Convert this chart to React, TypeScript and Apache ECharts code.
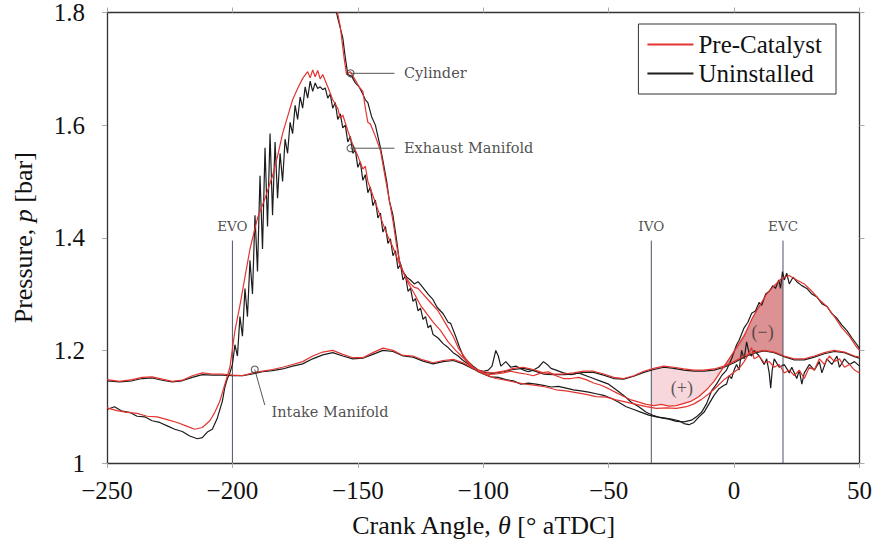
import React, { useEffect, useRef } from "react";
import * as echarts from "echarts";

// ---------- axis ticks ----------
const xTicks = [-250, -200, -150, -100, -50, 0, 50];
const yTicks = [1, 1.2, 1.4, 1.6, 1.8];

// ---------- intake manifold ----------
const intakePre: number[][] = [
  [-250, 1.148], [-245, 1.145], [-240, 1.148], [-236, 1.152], [-232, 1.153], [-228, 1.149], [-224, 1.145],
  [-220, 1.147], [-216, 1.155], [-212, 1.16], [-208, 1.158], [-204, 1.158], [-200, 1.156], [-196, 1.155],
  [-192, 1.16], [-188, 1.163], [-184, 1.166], [-180, 1.17], [-176, 1.175], [-172, 1.18], [-168, 1.19],
  [-164, 1.197], [-160, 1.2], [-156, 1.193], [-152, 1.187], [-148, 1.187], [-144, 1.196], [-140, 1.204],
  [-136, 1.2], [-132, 1.191], [-128, 1.19], [-124, 1.183], [-120, 1.178], [-116, 1.182], [-112, 1.184],
  [-108, 1.178], [-104, 1.168], [-100, 1.162], [-96, 1.16], [-92, 1.163], [-88, 1.168], [-84, 1.17],
  [-80, 1.166], [-76, 1.16], [-72, 1.158], [-68, 1.158], [-64, 1.16], [-60, 1.163], [-56, 1.163],
  [-52, 1.158], [-48, 1.152], [-44, 1.15], [-40, 1.155], [-36, 1.163], [-32, 1.168], [-28, 1.172],
  [-24, 1.17], [-20, 1.167], [-16, 1.165], [-12, 1.165], [-8, 1.167], [-4, 1.172], [0, 1.18],
  [4, 1.19], [8, 1.197], [12, 1.2], [16, 1.197], [20, 1.19], [24, 1.185], [28, 1.185], [32, 1.19],
  [36, 1.196], [40, 1.2], [44, 1.197], [48, 1.19], [50, 1.188],
];
const intakeUn: number[][] = [
  [-250, 1.146], [-245, 1.144], [-240, 1.146], [-236, 1.15], [-232, 1.151], [-228, 1.147], [-224, 1.144],
  [-220, 1.146], [-216, 1.152], [-212, 1.157], [-208, 1.156], [-204, 1.156], [-200, 1.155], [-196, 1.155],
  [-192, 1.158], [-188, 1.162], [-184, 1.164], [-180, 1.167], [-176, 1.172], [-172, 1.176], [-168, 1.185],
  [-164, 1.192], [-160, 1.196], [-156, 1.19], [-152, 1.185], [-148, 1.186], [-144, 1.193], [-140, 1.2],
  [-136, 1.198], [-132, 1.19], [-128, 1.188], [-124, 1.181], [-120, 1.176], [-116, 1.18], [-112, 1.182],
  [-108, 1.176], [-104, 1.167], [-100, 1.161], [-96, 1.159], [-92, 1.162], [-88, 1.166], [-84, 1.168],
  [-80, 1.164], [-76, 1.158], [-72, 1.157], [-68, 1.157], [-64, 1.158], [-60, 1.161], [-56, 1.161],
  [-52, 1.156], [-48, 1.15], [-44, 1.149], [-40, 1.154], [-36, 1.161], [-32, 1.166], [-28, 1.17],
  [-24, 1.168], [-20, 1.165], [-16, 1.163], [-12, 1.163], [-8, 1.165], [-4, 1.17], [0, 1.178],
  [4, 1.188], [8, 1.195], [12, 1.199], [16, 1.196], [20, 1.189], [24, 1.183], [28, 1.183], [32, 1.188],
  [36, 1.194], [40, 1.198], [44, 1.196], [48, 1.189], [50, 1.186],
];

// ---------- exhaust manifold ----------
const exhaustPre: number[][] = [
  [-250, 1.098], [-246, 1.093], [-242, 1.09], [-238, 1.088], [-234, 1.083], [-230, 1.082], [-226, 1.077],
  [-222, 1.072], [-218, 1.065], [-215, 1.06], [-212, 1.063], [-209, 1.075], [-207, 1.09], [-205, 1.11],
  [-203, 1.14], [-201, 1.17], [-199, 1.235], [-197, 1.28], [-195, 1.33], [-193, 1.38], [-190, 1.435],
  [-187, 1.47], [-184, 1.51], [-182, 1.545], [-180, 1.585], [-178, 1.615], [-176, 1.645], [-174, 1.665],
  [-172, 1.683], [-170, 1.695], [-169, 1.684], [-168, 1.698], [-167, 1.686], [-166, 1.697], [-165, 1.682],
  [-164, 1.69], [-162, 1.668], [-160, 1.645], [-158, 1.63], [-157, 1.612], [-156, 1.618], [-154, 1.59],
  [-152, 1.565], [-150, 1.545], [-148, 1.522], [-147, 1.527], [-146, 1.5], [-144, 1.475], [-142, 1.45],
  [-140, 1.425], [-138, 1.402], [-136, 1.383], [-134, 1.36], [-132, 1.34], [-130, 1.32], [-128, 1.305],
  [-125, 1.28], [-122, 1.262], [-120, 1.25], [-117, 1.235], [-114, 1.215], [-111, 1.2], [-108, 1.187],
  [-105, 1.172], [-102, 1.163], [-99, 1.157], [-95, 1.15], [-91, 1.147], [-87, 1.143], [-83, 1.14],
  [-79, 1.138], [-75, 1.135], [-71, 1.13], [-67, 1.128], [-63, 1.125], [-59, 1.122], [-55, 1.118],
  [-51, 1.117], [-47, 1.112], [-43, 1.108], [-39, 1.104], [-35, 1.1], [-31, 1.097], [-27, 1.098],
  [-23, 1.097], [-19, 1.1], [-16, 1.105], [-13, 1.113], [-10, 1.123], [-7, 1.135], [-4, 1.148],
  [-1, 1.158], [2, 1.168], [4, 1.18], [6, 1.195], [7, 1.205], [8, 1.185], [10, 1.19], [12, 1.178],
  [14, 1.18], [16, 1.17], [18, 1.175], [20, 1.16], [22, 1.165], [24, 1.155], [26, 1.165], [28, 1.15],
  [30, 1.17], [32, 1.165], [34, 1.185], [36, 1.175], [38, 1.19], [40, 1.18], [42, 1.185], [44, 1.17],
  [46, 1.175], [48, 1.165], [50, 1.16],
];
const exhaustUn: number[][] = [
  [-250, 1.095], [-247, 1.1], [-244, 1.092], [-241, 1.09], [-238, 1.083], [-235, 1.082], [-232, 1.075],
  [-229, 1.072], [-226, 1.066], [-223, 1.06], [-220, 1.056], [-217, 1.048], [-214, 1.043], [-212, 1.045],
  [-210, 1.055], [-208, 1.06], [-206, 1.08], [-204, 1.11], [-203, 1.135], [-202, 1.15], [-201, 1.16],
  [-200, 1.175], [-199, 1.21], [-198, 1.19], [-197, 1.26], [-196, 1.225], [-195, 1.31], [-194, 1.26],
  [-193, 1.36], [-192, 1.3], [-191, 1.44], [-190, 1.34], [-189, 1.51], [-188, 1.38], [-187, 1.56],
  [-186, 1.42], [-185, 1.585], [-184, 1.44], [-183, 1.57], [-182, 1.47], [-181, 1.55], [-180, 1.5],
  [-179, 1.575], [-178, 1.55], [-177, 1.605], [-176, 1.585], [-175, 1.635], [-174, 1.61], [-173, 1.65],
  [-172, 1.63], [-171, 1.668], [-170, 1.648], [-169, 1.678], [-168, 1.66], [-167, 1.675], [-166, 1.665],
  [-165, 1.668], [-164, 1.663], [-163, 1.666], [-162, 1.648], [-161, 1.655], [-160, 1.63], [-159, 1.64],
  [-158, 1.61], [-157, 1.62], [-156, 1.595], [-155, 1.6], [-154, 1.57], [-153, 1.58], [-152, 1.55],
  [-151, 1.556], [-150, 1.525], [-149, 1.535], [-148, 1.502], [-147, 1.512], [-146, 1.48], [-145, 1.49],
  [-144, 1.457], [-143, 1.467], [-142, 1.435], [-141, 1.444], [-140, 1.41], [-139, 1.42], [-138, 1.39],
  [-137, 1.398], [-136, 1.368], [-135, 1.377], [-134, 1.345], [-133, 1.353], [-132, 1.325], [-131, 1.333],
  [-130, 1.305], [-129, 1.31], [-128, 1.287], [-127, 1.292], [-126, 1.27], [-125, 1.275], [-124, 1.255],
  [-123, 1.26], [-122, 1.24], [-121, 1.245], [-120, 1.228], [-118, 1.222], [-116, 1.212], [-114, 1.205],
  [-112, 1.196], [-110, 1.19], [-108, 1.182], [-106, 1.176], [-104, 1.168], [-102, 1.162], [-100, 1.158],
  [-97, 1.153], [-94, 1.152], [-91, 1.148], [-88, 1.146], [-85, 1.14], [-82, 1.142], [-79, 1.14],
  [-76, 1.138], [-73, 1.135], [-70, 1.136], [-67, 1.133], [-64, 1.13], [-61, 1.128], [-58, 1.126],
  [-55, 1.123], [-52, 1.12], [-49, 1.115], [-46, 1.108], [-43, 1.1], [-40, 1.095], [-37, 1.09],
  [-34, 1.085], [-31, 1.082], [-28, 1.08], [-25, 1.078], [-22, 1.075], [-20, 1.07], [-18, 1.068],
  [-16, 1.072], [-14, 1.082], [-12, 1.09], [-10, 1.105], [-8, 1.12], [-6, 1.132], [-4, 1.138],
  [-3, 1.14], [-2, 1.155], [-1, 1.15], [0, 1.165], [1, 1.175], [2, 1.165], [3, 1.2], [4, 1.185],
  [5, 1.215], [6, 1.195], [7, 1.19], [8, 1.2], [10, 1.19], [12, 1.175], [13, 1.185], [14, 1.16],
  [14.6, 1.133], [15.2, 1.165], [16, 1.185], [18, 1.17], [20, 1.175], [22, 1.16], [23, 1.17], [25, 1.15],
  [26, 1.165], [27, 1.14], [28, 1.16], [30, 1.175], [32, 1.165], [34, 1.18], [35, 1.16], [37, 1.185],
  [39, 1.175], [41, 1.19], [42, 1.17], [44, 1.185], [46, 1.175], [48, 1.18], [50, 1.172],
];

// ---------- cylinder ----------
const cylinderPre: number[][] = [
  [-159, 1.82], [-157, 1.775], [-155.5, 1.72], [-154.5, 1.69], [-153, 1.695], [-151, 1.68], [-149.5, 1.668],
  [-148, 1.66], [-147, 1.63], [-146, 1.605], [-145, 1.602], [-143, 1.58], [-141, 1.555], [-139, 1.505],
  [-137.5, 1.468], [-136, 1.43], [-134.5, 1.385], [-133, 1.35], [-131, 1.33], [-129, 1.318], [-127.5, 1.312],
  [-126, 1.31], [-124, 1.3], [-121, 1.285], [-118, 1.27], [-116, 1.255], [-114, 1.24], [-112, 1.225],
  [-110, 1.205], [-107, 1.185], [-104, 1.17], [-101, 1.162], [-98, 1.157], [-95, 1.158], [-92, 1.16],
  [-89, 1.163], [-86, 1.16], [-83, 1.158], [-80, 1.155], [-77, 1.16], [-74, 1.162], [-71, 1.155],
  [-68, 1.15], [-65, 1.15], [-62, 1.152], [-59, 1.148], [-56, 1.142], [-53, 1.138], [-50, 1.132],
  [-47, 1.125], [-44, 1.118], [-41, 1.112], [-38, 1.108], [-35, 1.104], [-32, 1.102], [-29, 1.104],
  [-26, 1.101], [-23, 1.102], [-20, 1.106], [-17, 1.11], [-14, 1.118], [-11, 1.13], [-8, 1.145],
  [-5, 1.165], [-2, 1.185], [1, 1.205], [4, 1.225], [7, 1.255], [10, 1.278], [13, 1.3], [16, 1.315],
  [19, 1.328], [22, 1.333], [25, 1.325], [28, 1.318], [31, 1.305], [34, 1.29], [37, 1.278], [40, 1.26],
  [43, 1.24], [46, 1.225], [49, 1.205], [50, 1.2],
];
const cylinderUn: number[][] = [
  [-159.5, 1.82], [-158, 1.79], [-156, 1.755], [-155, 1.72], [-154, 1.69], [-152.5, 1.687], [-151, 1.675],
  [-149.5, 1.668], [-148, 1.655], [-147, 1.645], [-146, 1.64], [-144.5, 1.615], [-143, 1.6], [-141, 1.56],
  [-140, 1.537], [-138.5, 1.5], [-137.5, 1.467], [-136, 1.44], [-134.5, 1.395], [-133.5, 1.36], [-132, 1.34],
  [-130.5, 1.33], [-129, 1.325], [-127.5, 1.318], [-126, 1.322], [-124.5, 1.314], [-122, 1.3], [-120, 1.29],
  [-118.5, 1.277], [-116, 1.265], [-114, 1.25], [-113, 1.248], [-111, 1.225], [-109.5, 1.206], [-108, 1.19],
  [-106, 1.18], [-104, 1.172], [-102, 1.165], [-100, 1.163], [-98, 1.165], [-96.5, 1.172], [-95, 1.2],
  [-94, 1.19], [-93, 1.172], [-91, 1.18], [-89, 1.17], [-87, 1.172], [-84, 1.165], [-82, 1.162],
  [-80, 1.165], [-78, 1.17], [-76, 1.18], [-74.5, 1.175], [-73, 1.168], [-71, 1.165], [-68, 1.16],
  [-65, 1.157], [-62, 1.16], [-59, 1.155], [-56, 1.15], [-53, 1.145], [-50, 1.14], [-47, 1.13],
  [-44, 1.12], [-41, 1.108], [-38, 1.1], [-35, 1.09], [-32, 1.084], [-29, 1.08], [-26, 1.078],
  [-23, 1.074], [-20, 1.073], [-17, 1.076], [-15, 1.082], [-13, 1.09], [-11, 1.105], [-9, 1.128],
  [-7, 1.14], [-5, 1.155], [-3, 1.165], [-1, 1.185], [1, 1.21], [2, 1.218], [4, 1.24], [5.5, 1.25],
  [7, 1.266], [8.5, 1.27], [10, 1.285], [11, 1.28], [12.6, 1.3], [14, 1.305], [15.5, 1.315], [16.5, 1.31],
  [17.8, 1.325], [18.5, 1.31], [19.3, 1.34], [20, 1.325], [21, 1.337], [22, 1.318], [23.5, 1.33],
  [25, 1.322], [27, 1.315], [29, 1.31], [31, 1.3], [33, 1.295], [35, 1.283], [37, 1.278], [39, 1.265],
  [41, 1.257], [43, 1.245], [45, 1.235], [47, 1.222], [49, 1.21], [50, 1.203],
];

// ---------- shaded pumping regions ----------
const plusX = [-33, -30, -27, -24, -21, -18, -15, -12, -9, -6, -4.5];
const plusTop = [1.168, 1.171, 1.171, 1.17, 1.168, 1.166, 1.165, 1.165, 1.166, 1.168, 1.17];
const plusBottom = [1.102, 1.104, 1.101, 1.101, 1.104, 1.108, 1.113, 1.125, 1.14, 1.158, 1.17];
const minusX = [-4.5, -2, 0, 2, 4, 6, 8, 10, 12, 14, 16, 18, 19.5];
const minusBottom = [1.17, 1.175, 1.18, 1.185, 1.19, 1.194, 1.197, 1.199, 1.2, 1.199, 1.197, 1.194, 1.19];
const minusTop = [1.17, 1.185, 1.2, 1.215, 1.23, 1.245, 1.265, 1.28, 1.293, 1.305, 1.315, 1.325, 1.33];

// ---------- valve events ----------
const eventNames = ["EVO", "IVO", "EVC"];
const eventAngles = [-200, -33, 19.5];
const eventTop = 1.395;

// ---------- annotations ----------
const leaderNames = ["Cylinder", "Exhaust Manifold", "Intake Manifold"];
const leaderStart = [[-152.9, 1.692], [-152.9, 1.559], [-191.1, 1.166]];
const leaderEnd = [[-135.4, 1.692], [-135.4, 1.559], [-187.1, 1.103]];
const leaderTextAt = [[-135.4, 1.692], [-135.4, 1.559], [-184.6, 1.09]];
const regionLabels = ["(+)", "(\u2212)"];
const regionAt = [[-20.8, 1.133], [11.4, 1.232]];

const RED = "#e3342f";
const BLACK = "#1c1c1c";
const SERIF = "'Liberation Serif', 'Times New Roman', serif";
const ANN = "'DejaVu Serif', serif";

export default function App() {
  const ref = useRef<HTMLDivElement>(null);
  useEffect(() => {
    if (!ref.current) return;
    const chart = echarts.init(ref.current, undefined, { renderer: "svg" });

    const curve = (name: string, data: number[][], color: string, z: number) => ({
      type: "line",
      name,
      data,
      color,
      symbol: "none",
      showSymbol: false,
      lineStyle: { color, width: 1.2 },
      z,
      silent: true,
    });

    const regions = [
      { xs: plusX, top: plusTop, bottom: plusBottom, fill: "#f8d7dc" },
      { xs: minusX, top: minusTop, bottom: minusBottom, fill: "#dc9193" },
    ];

    const series: any[] = [
      {
        type: "custom",
        name: "regions",
        coordinateSystem: "cartesian2d",
        silent: true,
        z: 1,
        encode: { x: 0, y: 1 },
        data: regions.map((r) => [r.xs[0], r.bottom[0]]),
        renderItem: (params: any, api: any) => {
          const r = regions[params.dataIndex];
          const pts: number[][] = [];
          r.xs.forEach((x, i) => pts.push(api.coord([x, r.top[i]])));
          for (let i = r.xs.length - 1; i >= 0; i--) pts.push(api.coord([r.xs[i], r.bottom[i]]));
          return { type: "polygon", shape: { points: pts }, style: { fill: r.fill, stroke: "none" } };
        },
      },
    ];

    eventAngles.forEach((a, i) => {
      series.push({
        type: "line", name: eventNames[i], symbol: "none", silent: true, z: 2,
        data: [[a, 1.0], [a, eventTop]],
        lineStyle: { color: "#4d5366", width: 1 },
      });
    });

    series.push(curve("Pre-Catalyst", intakePre, RED, 4));
    series.push(curve("Uninstalled", intakeUn, BLACK, 3));
    series.push(curve("Pre-Catalyst", exhaustPre, RED, 4));
    series.push(curve("Uninstalled", exhaustUn, BLACK, 3));
    series.push(curve("Pre-Catalyst", cylinderPre, RED, 4));
    series.push(curve("Uninstalled", cylinderUn, BLACK, 3));

    leaderNames.forEach((n, i) => {
      series.push({
        type: "line", name: "leader" + i, symbol: "none", silent: true, z: 5,
        data: [leaderStart[i], leaderEnd[i]],
        lineStyle: { color: "#555", width: 1 },
      });
    });
    series.push({
      type: "scatter", name: "leaderDots", silent: true, z: 6,
      symbol: "circle", symbolSize: 7,
      itemStyle: { color: "rgba(255,255,255,0)", borderColor: "#333", borderWidth: 1.1 },
      data: leaderStart,
    });

    const annData: any[] = [];
    eventNames.forEach((n, i) => {
      annData.push({
        value: [eventAngles[i], eventTop],
        label: { show: true, position: "top", distance: 7, formatter: n, fontFamily: ANN, fontSize: 13.5, color: "#222" },
      });
    });
    leaderNames.forEach((n, i) => {
      annData.push({
        value: leaderTextAt[i],
        label: { show: true, position: "right", distance: i === 2 ? 0 : 9, formatter: n, fontFamily: ANN, fontSize: 14.5, color: "#222" },
      });
    });
    regionLabels.forEach((n, i) => {
      annData.push({
        value: regionAt[i],
        label: { show: true, position: "inside", formatter: n, fontFamily: SERIF, fontSize: 18, color: "#333" },
      });
    });
    series.push({
      type: "scatter", name: "annotations", silent: true, z: 7,
      symbol: "circle", symbolSize: 1,
      itemStyle: { color: "rgba(0,0,0,0)" },
      data: annData,
    });

    const axisLine = { show: true, onZero: false, lineStyle: { color: "#333", width: 1.3 } };
    const axisTick = { show: true, inside: false, length: 5, lineStyle: { color: "#aaa", width: 1 } };

    chart.setOption({
      animation: false,
      backgroundColor: "#fff",
      grid: { left: 107, right: 14, top: 12, bottom: 83, containLabel: false },
      legend: {
        data: ["Pre-Catalyst", "Uninstalled"],
        orient: "vertical",
        right: 39,
        top: 24,
        padding: [8, 14, 8, 9],
        itemGap: 4,
        itemWidth: 46,
        itemHeight: 2,
        icon: "rect",
        borderColor: "#333",
        borderWidth: 1,
        backgroundColor: "#fff",
        selectedMode: false,
        textStyle: { fontFamily: SERIF, fontSize: 25, color: "#111", lineHeight: 25 },
      },
      xAxis: [
        {
          type: "value", min: -250, max: 50, interval: 50, position: "bottom",
          axisLine, axisTick, splitLine: { show: false },
          axisLabel: {
            margin: 15, fontFamily: SERIF, fontSize: 25, color: "#111",
            formatter: (v: number) => (v < 0 ? "\u2212" + Math.abs(v) : String(v)),
          },
          name: "Crank Angle, {i|\u03b8} [\u00b0 aTDC]",
          nameLocation: "middle",
          nameGap: 49,
          nameTextStyle: {
            fontFamily: SERIF, fontSize: 26, color: "#111",
            rich: { i: { fontFamily: SERIF, fontSize: 26, fontStyle: "italic", color: "#111" } },
          },
        },
        {
          type: "value", min: -250, max: 50, interval: 50, position: "top",
          axisLine, axisTick, axisLabel: { show: false }, splitLine: { show: false },
        },
      ],
      yAxis: [
        {
          type: "value", min: 1, max: 1.8, interval: 0.2, position: "left",
          axisLine, axisTick, splitLine: { show: false },
          axisLabel: {
            margin: 22, fontFamily: SERIF, fontSize: 25, color: "#111",
            formatter: (v: number) => String(Math.round(v * 10) / 10),
          },
          name: "Pressure, {i|p} [bar]",
          nameLocation: "middle",
          nameGap: 71,
          nameTextStyle: {
            fontFamily: SERIF, fontSize: 26, color: "#111",
            rich: { i: { fontFamily: SERIF, fontSize: 26, fontStyle: "italic", color: "#111" } },
          },
        },
        {
          type: "value", min: 1, max: 1.8, interval: 0.2, position: "right",
          axisLine, axisTick, axisLabel: { show: false }, splitLine: { show: false },
        },
      ],
      series,
    });
    return () => chart.dispose();
  }, []);
  return (
    <div
      ref={ref}
      style={{ position: "absolute", left: 0, top: 0, width: 875, height: 546, background: "#fff" }}
    />
  );
}
